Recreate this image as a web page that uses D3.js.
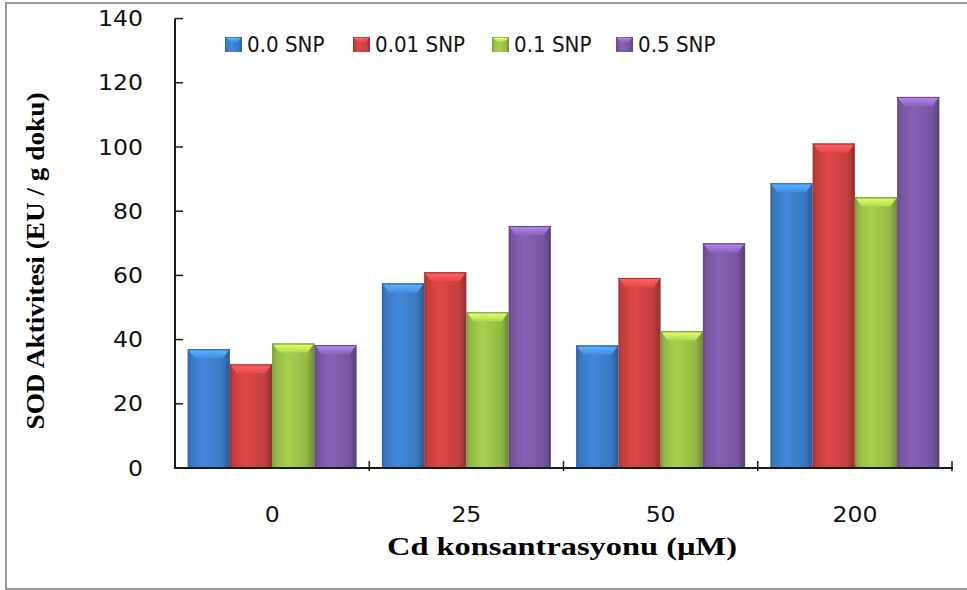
<!DOCTYPE html>
<html>
<head>
<meta charset="utf-8">
<script src="https://cdn.jsdelivr.net/npm/d3@7"></script>
<style>
  html, body { margin: 0; padding: 0; background: #fff; }
  svg { display: block; }
</style>
</head>
<body>
<svg id="chart" width="967" height="590"></svg>
<script>
// Cd concentrations (µM) on the x axis
const categories = ["0", "25", "50", "200"];
// SNP treatments, one bar per treatment in each group
const seriesNames = ["0.0 SNP", "0.01 SNP", "0.1 SNP", "0.5 SNP"];
// SOD activity (EU / g doku), one array per SNP treatment, ordered like categories
const snp00  = [37.0, 57.5, 38.2, 88.7];
const snp001 = [32.3, 61.0, 59.2, 101.1];
const snp01  = [38.8, 48.5, 42.6, 84.3];
const snp05  = [38.3, 75.4, 70.0, 115.6];
const seriesValues = [snp00, snp001, snp01, snp05];
const yTicks = [0, 20, 40, 60, 80, 100, 120, 140];
const yTitle = "SOD Aktivitesi (EU / g doku)";
const xTitle = "Cd konsantrasyonu  (µM)";

const palette = ["#3d7fcc", "#cf4242", "#9dc34a", "#7d5ba9"];

const svg = d3.select("#chart");
const defs = svg.append("defs");

// outer frame
svg.append("rect")
  .attr("x", 6).attr("y", 3).attr("width", 962).attr("height", 586)
  .attr("fill", "none").attr("stroke", "#9a9a9a").attr("stroke-width", 2);

const plot = { left: 175, right: 952, top: 18.6, bottom: 468 };

const y = d3.scaleLinear().domain([0, 140]).range([plot.bottom, plot.top]);
const x0 = d3.scaleBand().domain(categories)
  .range([plot.left, plot.right]).paddingInner(0.13).paddingOuter(0.065);
const x1 = d3.scaleBand().domain(seriesNames).range([0, x0.bandwidth()]);

// shaded fills giving each bar a rounded, glassy look
palette.forEach((c, i) => {
  const base = d3.color(c);
  const g = defs.append("linearGradient").attr("id", "bar" + i)
    .attr("x1", "0").attr("x2", "1").attr("y1", "0").attr("y2", "0");
  g.append("stop").attr("offset", "0%").attr("stop-color", base.darker(0.8));
  g.append("stop").attr("offset", "7%").attr("stop-color", base.darker(0.2));
  g.append("stop").attr("offset", "38%").attr("stop-color", base.brighter(0.2));
  g.append("stop").attr("offset", "82%").attr("stop-color", base.darker(0.15));
  g.append("stop").attr("offset", "100%").attr("stop-color", base.darker(1.0));
  const t = defs.append("linearGradient").attr("id", "top" + i)
    .attr("x1", "0").attr("x2", "0").attr("y1", "0").attr("y2", "1");
  t.append("stop").attr("offset", "0%").attr("stop-color", base.brighter(1.0));
  t.append("stop").attr("offset", "100%").attr("stop-color", base.brighter(0.3));
});

// bars
const groups = svg.append("g").selectAll("g")
  .data(categories)
  .join("g")
  .attr("transform", d => `translate(${x0(d)},0)`);

groups.each(function (cat, ci) {
  const g = d3.select(this);
  seriesNames.forEach((s, si) => {
    const v = seriesValues[si][ci];
    const bx = x1(s), bw = x1.bandwidth();
    const by = y(v), bh = y(0) - y(v);
    g.append("rect")
      .attr("x", bx).attr("y", by).attr("width", bw).attr("height", bh)
      .attr("fill", `url(#bar${si})`);
    // bevelled top face
    const inset = 7, depth = 9;
    g.append("polygon")
      .attr("points", [
        [bx + 1, by + 1], [bx + bw - 1, by + 1],
        [bx + bw - inset, by + depth], [bx + inset, by + depth]
      ].map(p => p.join(",")).join(" "))
      .attr("fill", `url(#top${si})`);
    g.append("line")
      .attr("x1", bx).attr("x2", bx + bw).attr("y1", by + 0.5).attr("y2", by + 0.5)
      .attr("stroke", d3.color(palette[si]).darker(0.6)).attr("stroke-width", 1);
  });
});

// y axis: line, inward ticks, labels
const axisColor = "#1a1a1a";
svg.append("line")
  .attr("x1", plot.left).attr("x2", plot.left)
  .attr("y1", y(140)).attr("y2", plot.bottom + 1)
  .attr("stroke", axisColor).attr("stroke-width", 2);
svg.append("g").selectAll("line").data(yTicks.filter(d => d > 0)).join("line")
  .attr("x1", plot.left).attr("x2", plot.left + 8)
  .attr("y1", d => y(d)).attr("y2", d => y(d))
  .attr("stroke", axisColor).attr("stroke-width", 1.5);
svg.append("g").selectAll("text").data(yTicks).join("text")
  .attr("transform", d => `translate(143,${y(d) + 7.5}) scale(1.15,1)`)
  .attr("text-anchor", "end")
  .attr("font-family", "DejaVu Sans")
  .attr("font-size", 20.5)
  .attr("fill", "#111")
  .text(d => d);

// x axis: line, category separators, labels
svg.append("line")
  .attr("x1", plot.left - 1).attr("x2", plot.right + 1)
  .attr("y1", plot.bottom).attr("y2", plot.bottom)
  .attr("stroke", axisColor).attr("stroke-width", 2);
const sepX = categories.map(c => x0(c) + x0.bandwidth() + x0.step() * x0.paddingInner() / 2);
svg.append("g").selectAll("line").data(sepX).join("line")
  .attr("x1", d => d).attr("x2", d => d)
  .attr("y1", plot.bottom - 7).attr("y2", plot.bottom + 3)
  .attr("stroke", axisColor).attr("stroke-width", 1.5);
svg.append("g").selectAll("text").data(categories).join("text")
  .attr("transform", d => `translate(${x0(d) + x0.bandwidth() / 2},522) scale(1.15,1)`)
  .attr("text-anchor", "middle")
  .attr("font-family", "DejaVu Sans")
  .attr("font-size", 20.5)
  .attr("fill", "#111")
  .text(d => d);

// axis titles
svg.append("text")
  .attr("x", 562).attr("y", 555)
  .attr("text-anchor", "middle")
  .attr("font-family", "Liberation Serif")
  .attr("font-weight", "bold")
  .attr("font-size", 26)
  .attr("textLength", 350).attr("lengthAdjust", "spacingAndGlyphs")
  .attr("fill", "#000")
  .text(xTitle);
svg.append("text")
  .attr("transform", "translate(44,261) rotate(-90)")
  .attr("text-anchor", "middle")
  .attr("font-family", "Liberation Serif")
  .attr("font-weight", "bold")
  .attr("font-size", 26)
  .attr("textLength", 337).attr("lengthAdjust", "spacingAndGlyphs")
  .attr("fill", "#000")
  .text(yTitle);

// legend
const legendX = [225, 353, 492, 616];
const legend = svg.append("g").selectAll("g").data(seriesNames).join("g")
  .attr("transform", (d, i) => `translate(${legendX[i]},37)`);
legend.append("rect")
  .attr("width", 17).attr("height", 15)
  .attr("fill", (d, i) => `url(#bar${i})`);
legend.append("polygon")
  .attr("points", "1,1 16,1 12,5 5,5")
  .attr("fill", (d, i) => `url(#top${i})`);
legend.append("text")
  .attr("transform", "translate(22,14.5) scale(1.02,1.05)")
  .attr("font-family", "DejaVu Sans")
  .attr("font-size", 19.5)
  .attr("fill", "#111")
  .text(d => d);
</script>
</body>
</html>
